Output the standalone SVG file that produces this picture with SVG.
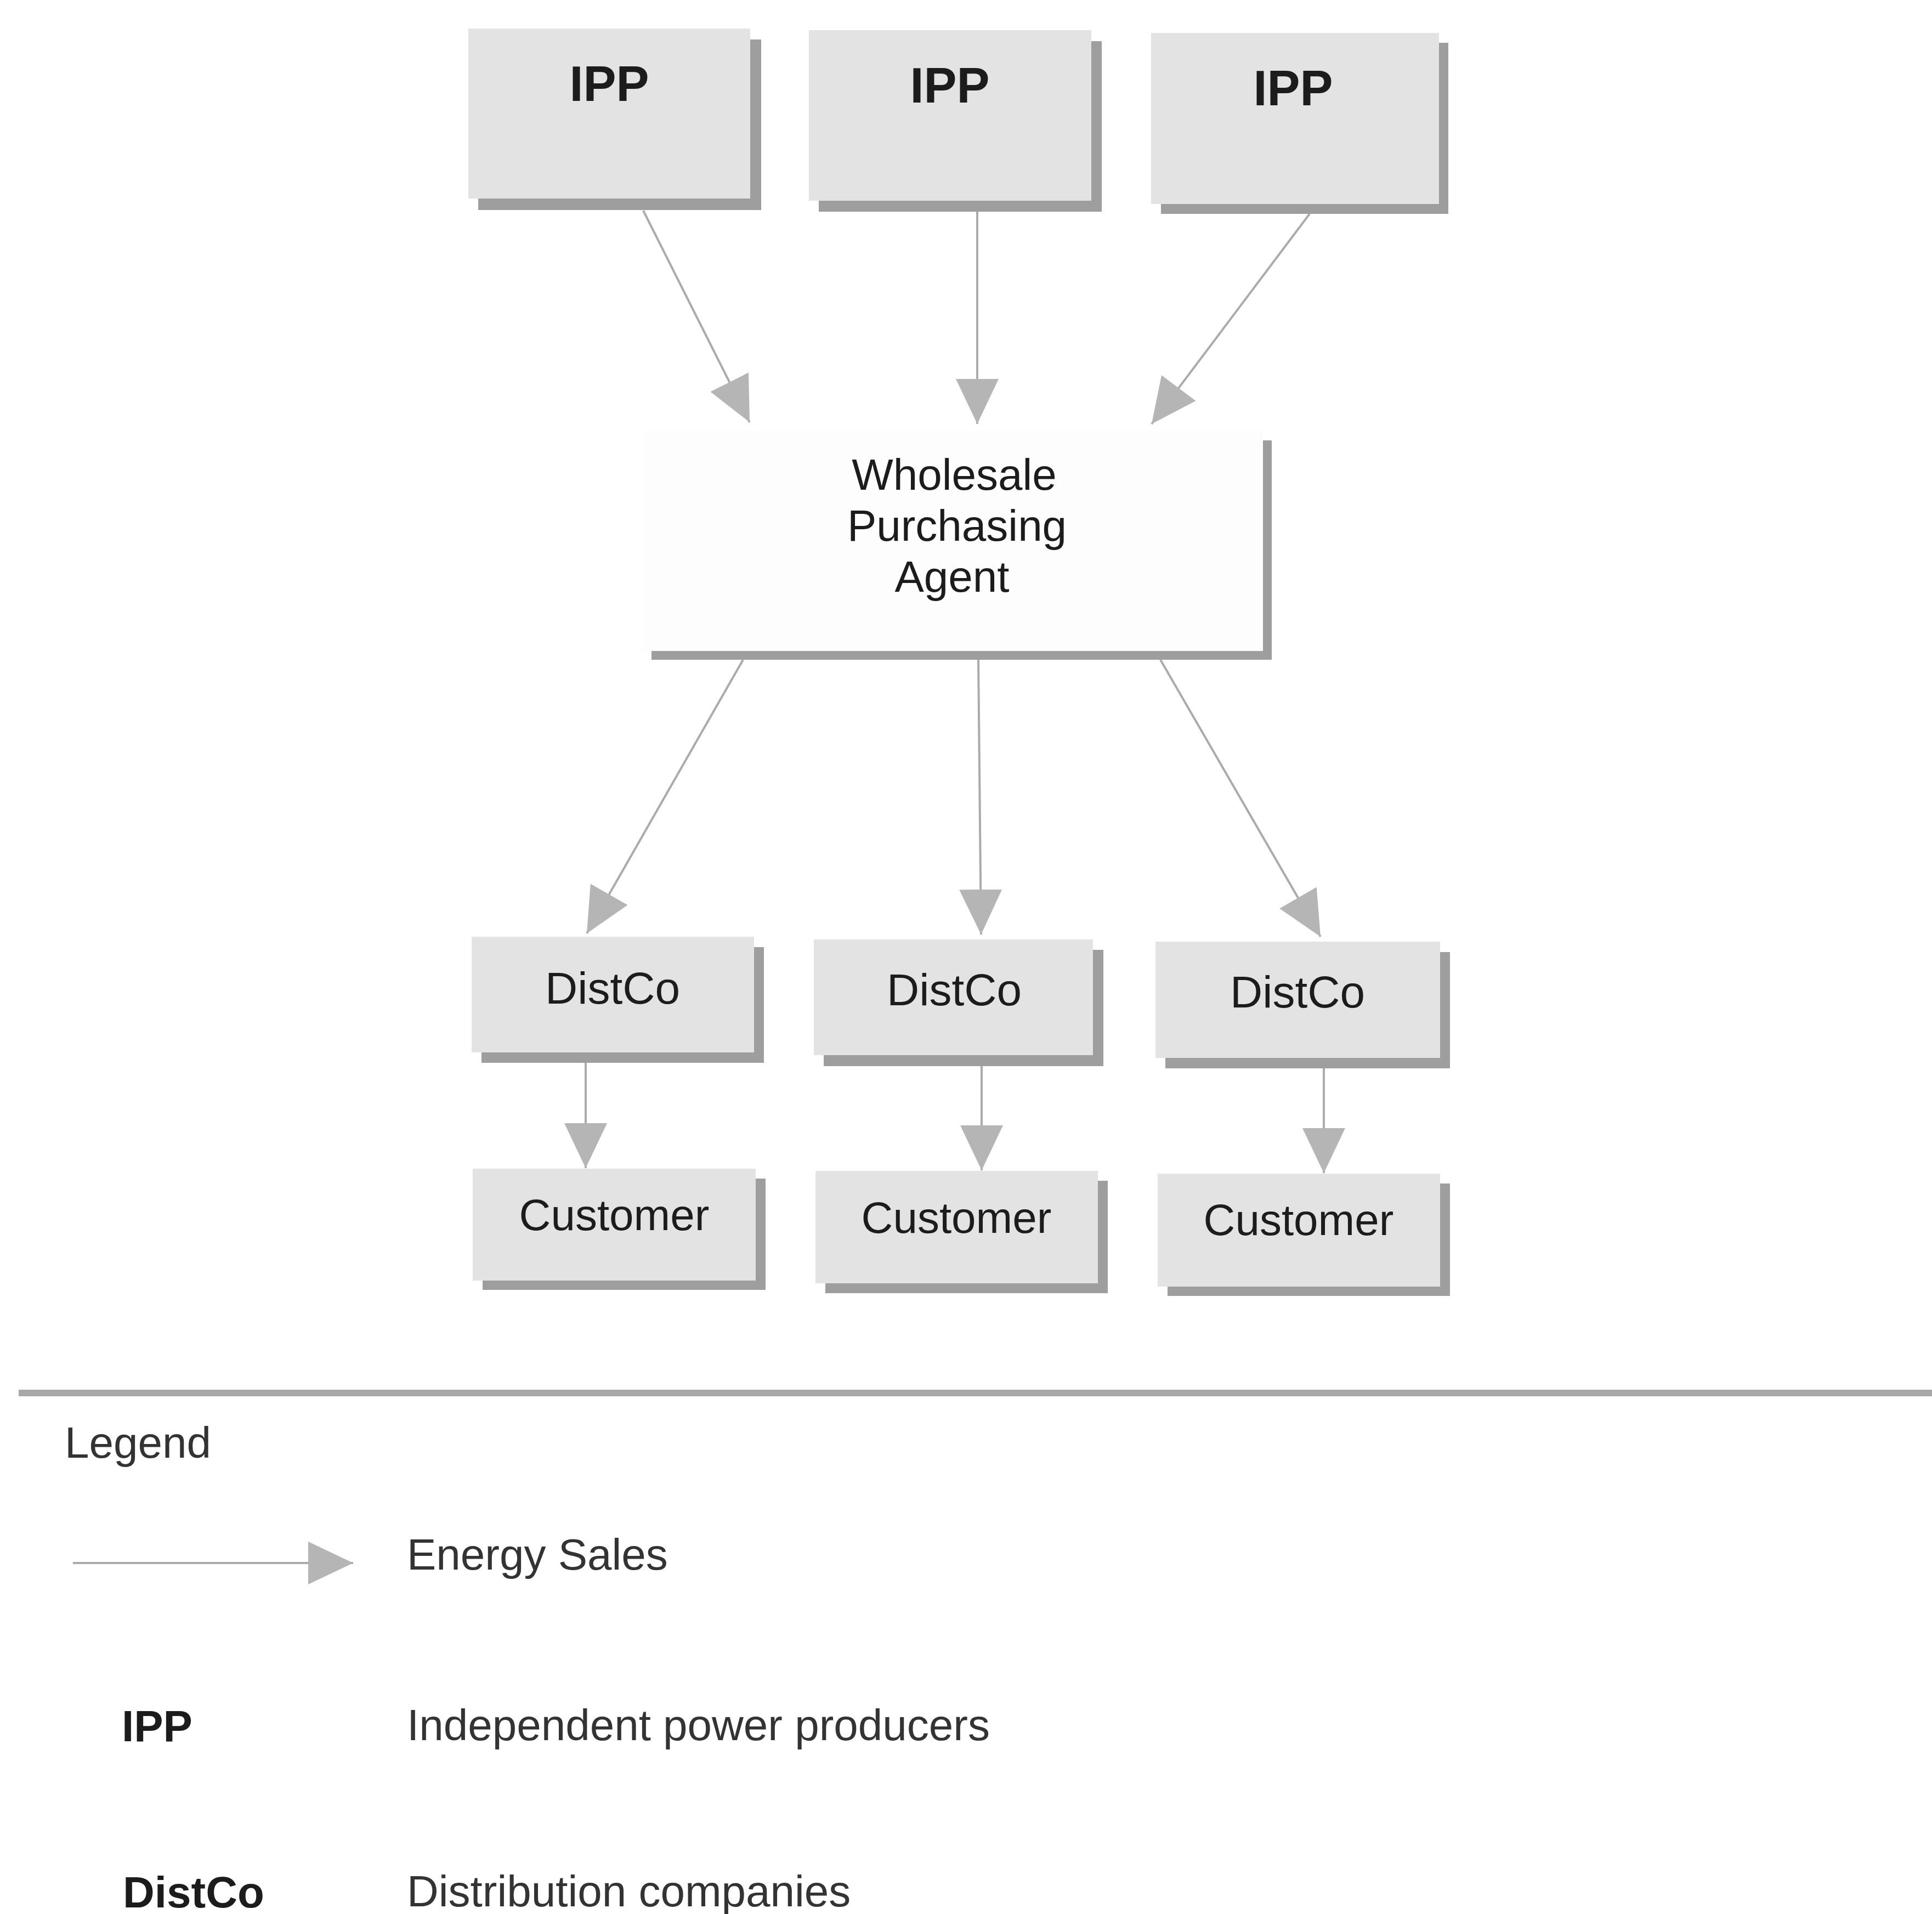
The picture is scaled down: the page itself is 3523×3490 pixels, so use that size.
<svg xmlns="http://www.w3.org/2000/svg" width="3523" height="3490" viewBox="0 0 3523 3490">
  <defs>
    <style>
      .face { fill: #e3e3e3; }
      .agent { fill: #fdfdfd; }
      .shadow { fill: #9e9e9e; }
      .lbl { font-family: "Liberation Sans", Arial, Helvetica, sans-serif; fill: #1c1c1c; text-anchor: middle; }
      .bold { font-weight: bold; }
      .conn { stroke: #ababab; stroke-width: 4; fill: none; marker-end: url(#arrow); }
      .legend { font-family: "Liberation Sans", Arial, Helvetica, sans-serif; fill: #333333; font-size: 80px; }
      .legend.bold { fill: #1c1c1c; }
    </style>
    <marker id="arrow" markerUnits="userSpaceOnUse" markerWidth="82" markerHeight="78" refX="82" refY="39" orient="auto">
      <path d="M0,0 L82,39 L0,78 Z" fill="#b5b5b5"/>
    </marker>
  </defs>

  <rect width="3523" height="3490" fill="#ffffff"/>

  <!-- independent power producers -->
  <g id="ipp1">
    <rect class="shadow" x="872" y="72" width="516" height="311"/>
    <rect class="face" x="854" y="52" width="514" height="310"/>
    <text class="lbl bold" x="1111" y="184" font-size="90">IPP</text>
  </g>
  <g id="ipp2">
    <rect class="shadow" x="1493" y="75" width="516" height="311"/>
    <rect class="face" x="1475" y="55" width="515" height="311"/>
    <text class="lbl bold" x="1732" y="187" font-size="90">IPP</text>
  </g>
  <g id="ipp3">
    <rect class="shadow" x="2117" y="78" width="524" height="312"/>
    <rect class="face" x="2099" y="60" width="525" height="312"/>
    <text class="lbl bold" x="2358" y="192" font-size="90">IPP</text>
  </g>

  <!-- wholesale purchasing agent -->
  <g id="agent">
    <rect class="shadow" x="1188" y="803" width="1131" height="400"/>
    <rect class="agent" x="1172" y="785" width="1131" height="402"/>
    <text class="lbl" x="1740" y="893" font-size="80">Wholesale</text>
    <text class="lbl" x="1745" y="986" font-size="80">Purchasing</text>
    <text class="lbl" x="1736" y="1079" font-size="80">Agent</text>
  </g>

  <!-- distribution companies -->
  <g id="distco1">
    <rect class="shadow" x="878" y="1727" width="515" height="211"/>
    <rect class="face" x="860" y="1708" width="515" height="211"/>
    <text class="lbl" x="1117" y="1830" font-size="82">DistCo</text>
  </g>
  <g id="distco2">
    <rect class="shadow" x="1502" y="1732" width="510" height="212"/>
    <rect class="face" x="1484" y="1713" width="509" height="211"/>
    <text class="lbl" x="1740" y="1833" font-size="82">DistCo</text>
  </g>
  <g id="distco3">
    <rect class="shadow" x="2125" y="1736" width="519" height="212"/>
    <rect class="face" x="2107" y="1717" width="519" height="212"/>
    <text class="lbl" x="2366" y="1837" font-size="82">DistCo</text>
  </g>

  <!-- customers -->
  <g id="customer1">
    <rect class="shadow" x="880" y="2149" width="516" height="203"/>
    <rect class="face" x="862" y="2131" width="516" height="204"/>
    <text class="lbl" x="1120" y="2243" font-size="80">Customer</text>
  </g>
  <g id="customer2">
    <rect class="shadow" x="1505" y="2153" width="515" height="205"/>
    <rect class="face" x="1487" y="2135" width="515" height="205"/>
    <text class="lbl" x="1744" y="2248" font-size="80">Customer</text>
  </g>
  <g id="customer3">
    <rect class="shadow" x="2129" y="2158" width="515" height="205"/>
    <rect class="face" x="2111" y="2140" width="515" height="206"/>
    <text class="lbl" x="2368" y="2252" font-size="80">Customer</text>
  </g>

  <!-- energy sales flows -->
  <g id="connectors">
    <line class="conn" x1="1173" y1="384" x2="1367" y2="770"/>
    <line class="conn" x1="1782" y1="386" x2="1782" y2="773"/>
    <line class="conn" x1="2388" y1="390" x2="2100" y2="773"/>
    <line class="conn" x1="1355" y1="1203" x2="1070" y2="1702"/>
    <line class="conn" x1="1784" y1="1203" x2="1789" y2="1704"/>
    <line class="conn" x1="2116" y1="1203" x2="2408" y2="1708"/>
    <line class="conn" x1="1068" y1="1938" x2="1068" y2="2130"/>
    <line class="conn" x1="1790" y1="1944" x2="1790" y2="2134"/>
    <line class="conn" x1="2414" y1="1948" x2="2414" y2="2139"/>
  </g>

  <!-- legend -->
  <g id="legend">
    <line x1="34" y1="2540" x2="3523" y2="2540" stroke="#a8a8a8" stroke-width="12"/>
    <text class="legend" x="118" y="2658">Legend</text>
    <line class="conn" x1="133" y1="2850" x2="644" y2="2850"/>
    <text class="legend" x="742" y="2862">Energy Sales</text>
    <text class="legend bold" x="222" y="3175">IPP</text>
    <text class="legend" x="742" y="3173">Independent power producers</text>
    <text class="legend bold" x="224" y="3478">DistCo</text>
    <text class="legend" x="742" y="3476">Distribution companies</text>
  </g>
</svg>
